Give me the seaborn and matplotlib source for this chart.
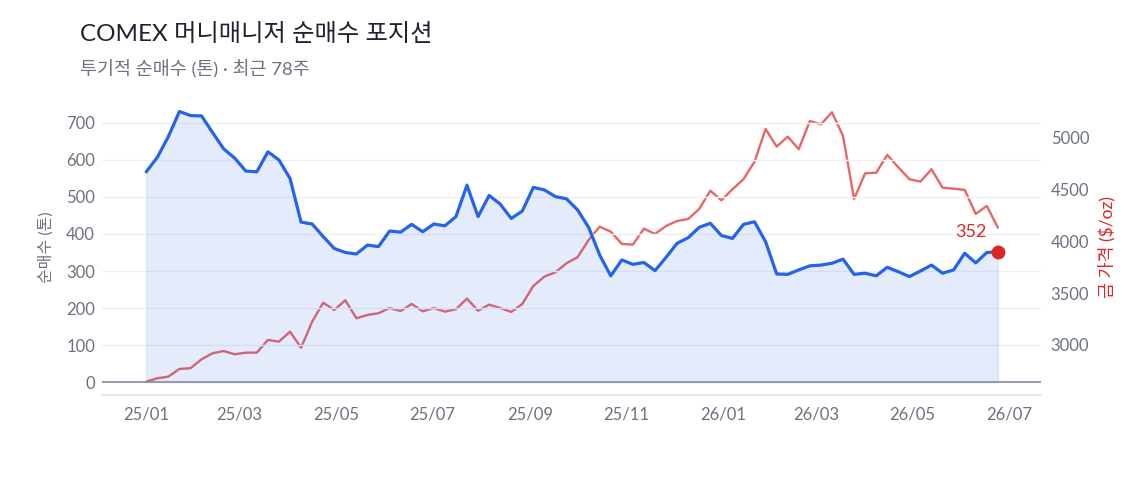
import matplotlib
matplotlib.use("Agg")
import matplotlib.pyplot as plt
import matplotlib.dates as mdates
import seaborn as sns
import pandas as pd
import numpy as np

# 주간 데이터 (78주)
start_date = "2025-01-01"
n_weeks = 78

net_long_tons = [
    568, 607, 663, 731, 720, 719, 674, 630, 605, 570,
    568, 622, 600, 550, 432, 427, 393, 361, 350, 346,
    370, 366, 408, 405, 426, 406, 427, 422, 447, 532,
    447, 504, 481, 442, 462, 526, 519, 501, 495, 465,
    418, 343, 287, 330, 318, 323, 301, 337, 375, 390,
    418, 429, 396, 388, 426, 433, 379, 292, 291, 303,
    314, 316, 321, 332, 291, 294, 287, 310, 298, 285,
    300, 316, 294, 303, 348, 322, 350, 352,
]

gold_price = [
    2647, 2679, 2695, 2769, 2776, 2862, 2920, 2942, 2910, 2926,
    2926, 3048, 3032, 3128, 2974, 3224, 3407, 3337, 3430, 3257,
    3289, 3305, 3356, 3327, 3395, 3324, 3356, 3321, 3344, 3446,
    3330, 3388, 3356, 3318, 3395, 3568, 3658, 3700, 3787, 3845,
    4011, 4139, 4091, 3973, 3966, 4120, 4069, 4146, 4194, 4213,
    4310, 4486, 4393, 4499, 4596, 4765, 5080, 4910, 5006, 4885,
    5157, 5125, 5241, 5013, 4406, 4653, 4659, 4830, 4711, 4596,
    4573, 4692, 4515, 4505, 4493, 4262, 4339, 4130,
]

BLUE = "#2563eb"
RED = "#dc2626"
GRAY = "#6b7280"

df = pd.DataFrame({
    "date": pd.date_range(start_date, periods=n_weeks, freq="7D"),
    "net_long": net_long_tons,
    "gold": gold_price,
})

sns.set_theme(style="white")
plt.rcParams["font.family"] = ["Lato", "Noto Sans CJK KR", "DejaVu Sans"]

fig = plt.figure(figsize=(11.44, 4.94), dpi=100)
ax = fig.add_axes([102 / 1144, 99 / 494, 939 / 1144, 295 / 494])
ax2 = ax.twinx()

# 왼쪽: 순매수 (톤)
ax.fill_between(df["date"], 0, df["net_long"], color=BLUE, alpha=0.12, linewidth=1)
sns.lineplot(data=df, x="date", y="net_long", ax=ax, color=BLUE, linewidth=2.3, zorder=4)
ax.axhline(0, color="#8b93a6", linewidth=1.3, zorder=3)

# 오른쪽: 금 가격
sns.lineplot(data=df, x="date", y="gold", ax=ax2, color=RED, alpha=0.7, linewidth=1.7)

# 마지막 값 표시
last = df.iloc[-1]
ax.plot(last["date"], last["net_long"], "o", color=RED, markersize=9, zorder=6, clip_on=False)
ax.annotate(f"{last['net_long']:.0f}", (last["date"], last["net_long"]),
            xytext=(-19.5, 14.5), textcoords="offset points", ha="center", va="center",
            color=RED, fontsize=13)

# 축 설정
ax.set_ylim(-35, 762)
ax2.set_ylim(2518, 5359)
ax.set_xlim(df["date"].iloc[0] - pd.Timedelta(weeks=4), df["date"].iloc[-1] + pd.Timedelta(weeks=3.9))
ax.set_yticks(range(0, 701, 100))
ax2.set_yticks(range(3000, 5001, 500))
ax.xaxis.set_major_locator(mdates.MonthLocator(bymonth=[1, 3, 5, 7, 9, 11]))
ax.xaxis.set_major_formatter(mdates.DateFormatter("%y/%m"))

ax.set_zorder(ax2.get_zorder() + 1)
ax.patch.set_visible(False)

ax.grid(axis="y", color="#eef0f3", linewidth=1)
ax2.grid(False)
for a in (ax, ax2):
    for s in ("top", "left", "right"):
        a.spines[s].set_visible(False)
    a.spines["bottom"].set_color("#e5e7eb")
    a.spines["bottom"].set_linewidth(1.3)
    a.tick_params(length=0, labelsize=12, labelcolor=GRAY)

ax.tick_params(axis="y", pad=5)
ax2.tick_params(axis="y", pad=7)
ax.tick_params(axis="x", pad=8)

ax.set_xlabel("")
ax.set_ylabel("순매수 (톤)", color=GRAY, fontsize=11.5, labelpad=9)
ax2.set_ylabel("금 가격 ($/oz)", color=RED, fontsize=12.5, labelpad=6)

fig.text(80 / 1144, 1 - 34 / 494, "COMEX 머니매니저 순매수 포지션", fontsize=17.5,
         color="#1f2330", va="center", ha="left")
fig.text(80 / 1144, 1 - 68 / 494, "투기적 순매수 (톤) · 최근 78주", fontsize=13.3,
         color=GRAY, va="center", ha="left")

fig.savefig("out.png", dpi=100)
plt.close(fig)
